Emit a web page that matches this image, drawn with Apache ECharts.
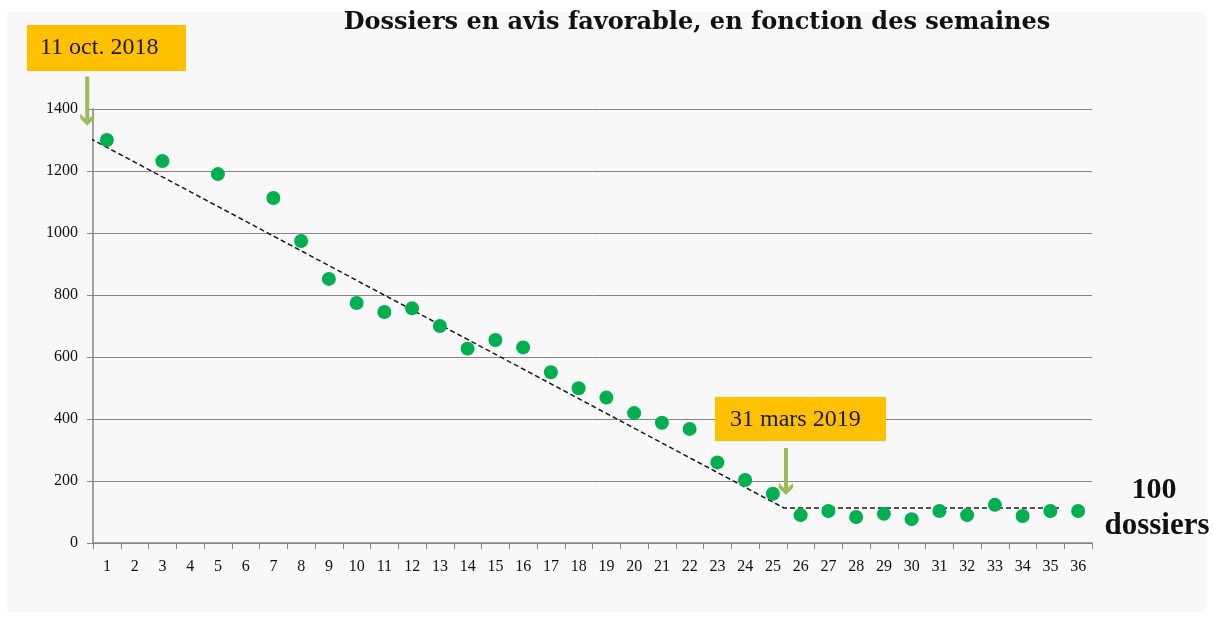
<!DOCTYPE html>
<html>
<head>
<meta charset="utf-8">
<script src="https://cdn.jsdelivr.net/npm/echarts@6/dist/echarts.min.js"></script>
<style>
html,body{margin:0;padding:0;background:#fff;}
#chart{width:1213px;height:619px;}
</style>
</head>
<body>
<div id="chart"></div>
<script>
// ---- data ----
const weeks = ['1','2','3','4','5','6','7','8','9','10','11','12','13','14','15','16','17','18','19','20','21','22','23','24','25','26','27','28','29','30','31','32','33','34','35','36'];
const favorable = [1300, null, 1232, null, 1190, null, 1113, 974, 852, 774, 745, 757, 700, 627, 655, 631, 551, 499, 469, 419, 388, 368, 260, 203, 159, 90, 103, 84, 94, 77, 103, 90, 123, 87, 103, 103];
// trend target: [week position (0 = left edge of axis), value]
const trendX = [-0.1, 24.9, 34.9];
const trendY = [1305, 113, 113];
const yTicks = [0, 200, 400, 600, 800, 1000, 1200, 1400];
const titleText = 'Dossiers en avis favorable, en fonction des semaines';
const startLabel = '11 oct. 2018';
const endLabel = '31 mars 2019';
const targetLabel = ['100', 'dossiers'];

const FONT = '"Liberation Serif", "DejaVu Serif", serif';
const TITLE_FONT = '"DejaVu Serif", "Liberation Serif", serif';
const chart = echarts.init(document.getElementById('chart'), null, {renderer: 'canvas'});

const option = {
  backgroundColor: '#ffffff',
  animation: false,
  grid: {left: 93, right: 121, top: 109, bottom: 76, containLabel: false},
  xAxis: [
    {
      type: 'category', data: weeks, boundaryGap: true,
      axisLine: {show: true, lineStyle: {color: '#858585', width: 1.5}},
      axisTick: {show: true, length: 6, inside: false, alignWithLabel: false, lineStyle: {color: '#858585'}},
      axisLabel: {color: '#111', fontFamily: FONT, fontSize: 16, margin: 16, interval: 0},
      splitLine: {show: false}
    },
    {
      type: 'value', min: 0, max: 36, show: false
    }
  ],
  yAxis: {
    type: 'value', min: yTicks[0], max: yTicks[yTicks.length - 1], interval: yTicks[1] - yTicks[0],
    axisLine: {show: true, lineStyle: {color: '#858585', width: 1.5}},
    axisTick: {show: true, length: 6, lineStyle: {color: '#858585'}},
    axisLabel: {color: '#111', fontFamily: FONT, fontSize: 16, margin: 15, formatter: v => String(v)},
    splitLine: {show: true, lineStyle: {color: '#858585', width: 1}}
  },
  series: [
    {
      name: 'Dossiers', type: 'scatter', xAxisIndex: 0, yAxisIndex: 0,
      data: favorable, symbolSize: 14,
      itemStyle: {color: '#00B050', opacity: 1}, z: 3
    },
    {
      name: 'Tendance', type: 'line', xAxisIndex: 1, yAxisIndex: 0,
      data: trendX.map((x, i) => [x, trendY[i]]),
      symbol: 'none', clip: false,
      lineStyle: {color: '#1a1a1a', width: 1.5, type: [5, 3]}, z: 2
    }
  ]
};
chart.setOption(option);

// annotations positioned from the trend line's break points
const pStart = chart.convertToPixel({xAxisIndex: 1, yAxisIndex: 0}, [trendX[0], trendY[0]]);
const pCorner = chart.convertToPixel({xAxisIndex: 1, yAxisIndex: 0}, [trendX[1], trendY[1]]);

function arrow(x, tipY, len) {
  const c = '#9BBB59';
  return [
    {type: 'line', shape: {x1: x, y1: tipY - len, x2: x, y2: tipY - 4}, style: {stroke: c, lineWidth: 4}, z: 10},
    {type: 'polygon', shape: {points: [[x - 7, tipY - 11], [x, tipY - 4], [x + 7, tipY - 11], [x + 7, tipY - 6], [x, tipY + 1], [x - 7, tipY - 6]]}, style: {fill: c}, z: 10}
  ];
}

chart.setOption({
  graphic: [
    {type: 'rect', shape: {x: 7, y: 12, width: 1199, height: 600}, style: {fill: '#f8f8f8'}, z: -10, silent: true},
    {type: 'text', x: 697, y: 23, style: {text: titleText, fill: '#111', font: 'bold 24px ' + TITLE_FONT, textAlign: 'center', textVerticalAlign: 'middle'}, z: 10},
    {type: 'rect', shape: {x: 27, y: 25, width: 159, height: 46}, style: {fill: '#FFC000'}, z: 10},
    {type: 'text', x: 40, y: 48, style: {text: startLabel, fill: '#1a1a1a', font: '24px ' + FONT, textAlign: 'left', textVerticalAlign: 'middle'}, z: 11},
    {type: 'rect', shape: {x: 715, y: 397, width: 171, height: 44}, style: {fill: '#FFC000'}, z: 10},
    {type: 'text', x: 730, y: 420, style: {text: endLabel, fill: '#1a1a1a', font: '24px ' + FONT, textAlign: 'left', textVerticalAlign: 'middle'}, z: 11},
    ...arrow(pStart[0] - 3, pStart[1] - 14, 48),
    ...arrow(pCorner[0] + 2, pCorner[1] - 14, 46),
    {type: 'text', x: 1154, y: 490, style: {text: targetLabel[0], fill: '#111', font: 'bold 30px ' + FONT, textAlign: 'center', textVerticalAlign: 'middle'}, z: 10},
    {type: 'text', x: 1157, y: 526, style: {text: targetLabel[1], fill: '#111', font: 'bold 31px ' + FONT, textAlign: 'center', textVerticalAlign: 'middle'}, z: 10}
  ]
});
</script>
</body>
</html>
